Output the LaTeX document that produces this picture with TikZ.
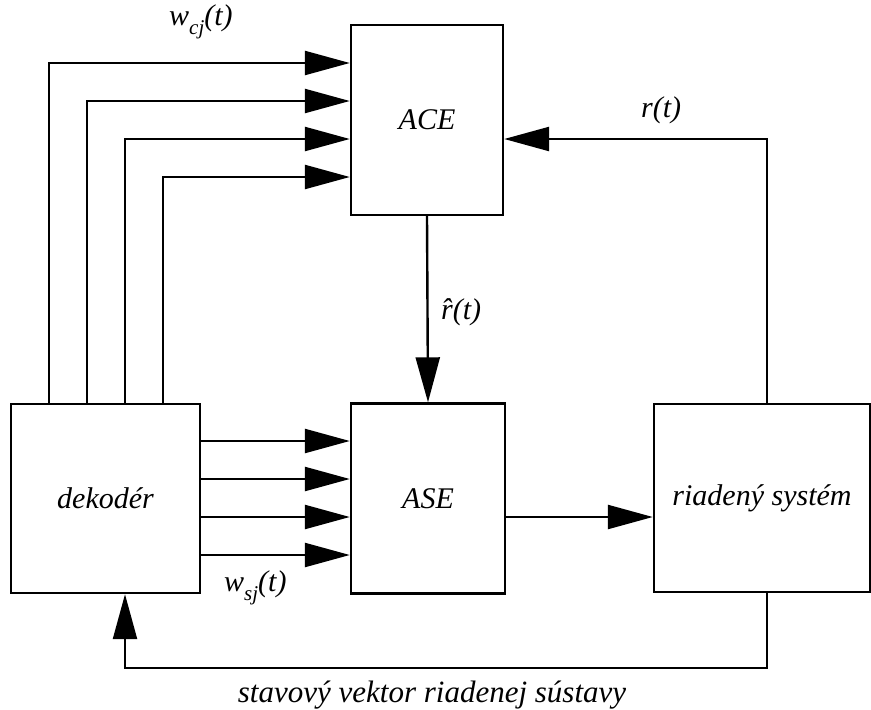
\documentclass[tikz,border=0pt]{standalone}
\usepackage{fontspec}
\setmainfont{Liberation Serif}
\usetikzlibrary{arrows.meta}
\newcommand{\lbsub}[1]{\raisebox{-0.28em}{\fontsize{21}{21}\selectfont #1}}
\begin{document}
\begin{tikzpicture}[x=1pt,y=-1pt,
  blk/.style={draw,line width=2.4pt,inner sep=0pt},
  arr/.style={line width=2.4pt,-{Triangle[length=45pt,width=24pt]}},
  lbl/.style={font=\fontsize{30}{30}\selectfont\itshape,inner sep=0pt},
  every node/.style={font=\fontsize{30}{30}\selectfont\itshape}]
\useasboundingbox (0,0) rectangle (871,710);
% boxes
\node[blk,minimum width=189pt,minimum height=189pt] (dek) at (105.5,498.5) {dekodér};
\node[blk,minimum width=152pt,minimum height=190pt] (ace) at (427,120) {ACE};
\node[blk,minimum width=154pt,minimum height=190pt] (ase) at (428,498.5) {ASE};
\node[blk,minimum width=216pt,minimum height=188pt] (sys) at (762,498) {riadený systém};
% coordinates on top of dekoder
\coordinate (d1) at (49,404);
\coordinate (d2) at (87,404);
\coordinate (d3) at (125,404);
\coordinate (d4) at (163,404);
% inputs to ACE
\draw[arr] (d1) |- (ace.west |- 0,63);
\draw[arr] (d2) |- (ace.west |- 0,101);
\draw[arr] (d3) |- (ace.west |- 0,139);
\draw[arr] (d4) |- (ace.west |- 0,177);
% inputs to ASE
\draw[arr] (dek.east |- 0,441) -- (ase.west |- 0,441);
\draw[arr] (dek.east |- 0,479) -- (ase.west |- 0,479);
\draw[arr] (dek.east |- 0,517) -- (ase.west |- 0,517);
\draw[arr] (dek.east |- 0,555) -- (ase.west |- 0,555);
% ACE -> ASE
\draw[arr] (ace.south) -- (ase.north);
% ASE -> system
\draw[arr] (ase.east |- 0,517) -- (sys.west |- 0,517);
% system -> ACE (r(t))
\coordinate (s1) at (767,404);
\draw[arr] (s1) |- (ace.east |- 0,139);
% feedback
\coordinate (s2) at (767,592);
\draw[arr] (s2) -- (767,668) -| (dek.south -| 125,0);
% labels
\node[lbl,anchor=west] (wc) at (169,22) {w\lbsub{cj}(t)};
\node[lbl,anchor=west] (wr) at (641,110) {r(t)};
\node[lbl,anchor=west] (rh) at (441,312) {\^{r}(t)};
\node[lbl,anchor=west] (ws) at (224,588) {w\lbsub{sj}(t)};
\node[lbl,font=\fontsize{31}{31}\selectfont\itshape] (sv) at (432,695) {stavový vektor riadenej sústavy};
\end{tikzpicture}
\end{document}
